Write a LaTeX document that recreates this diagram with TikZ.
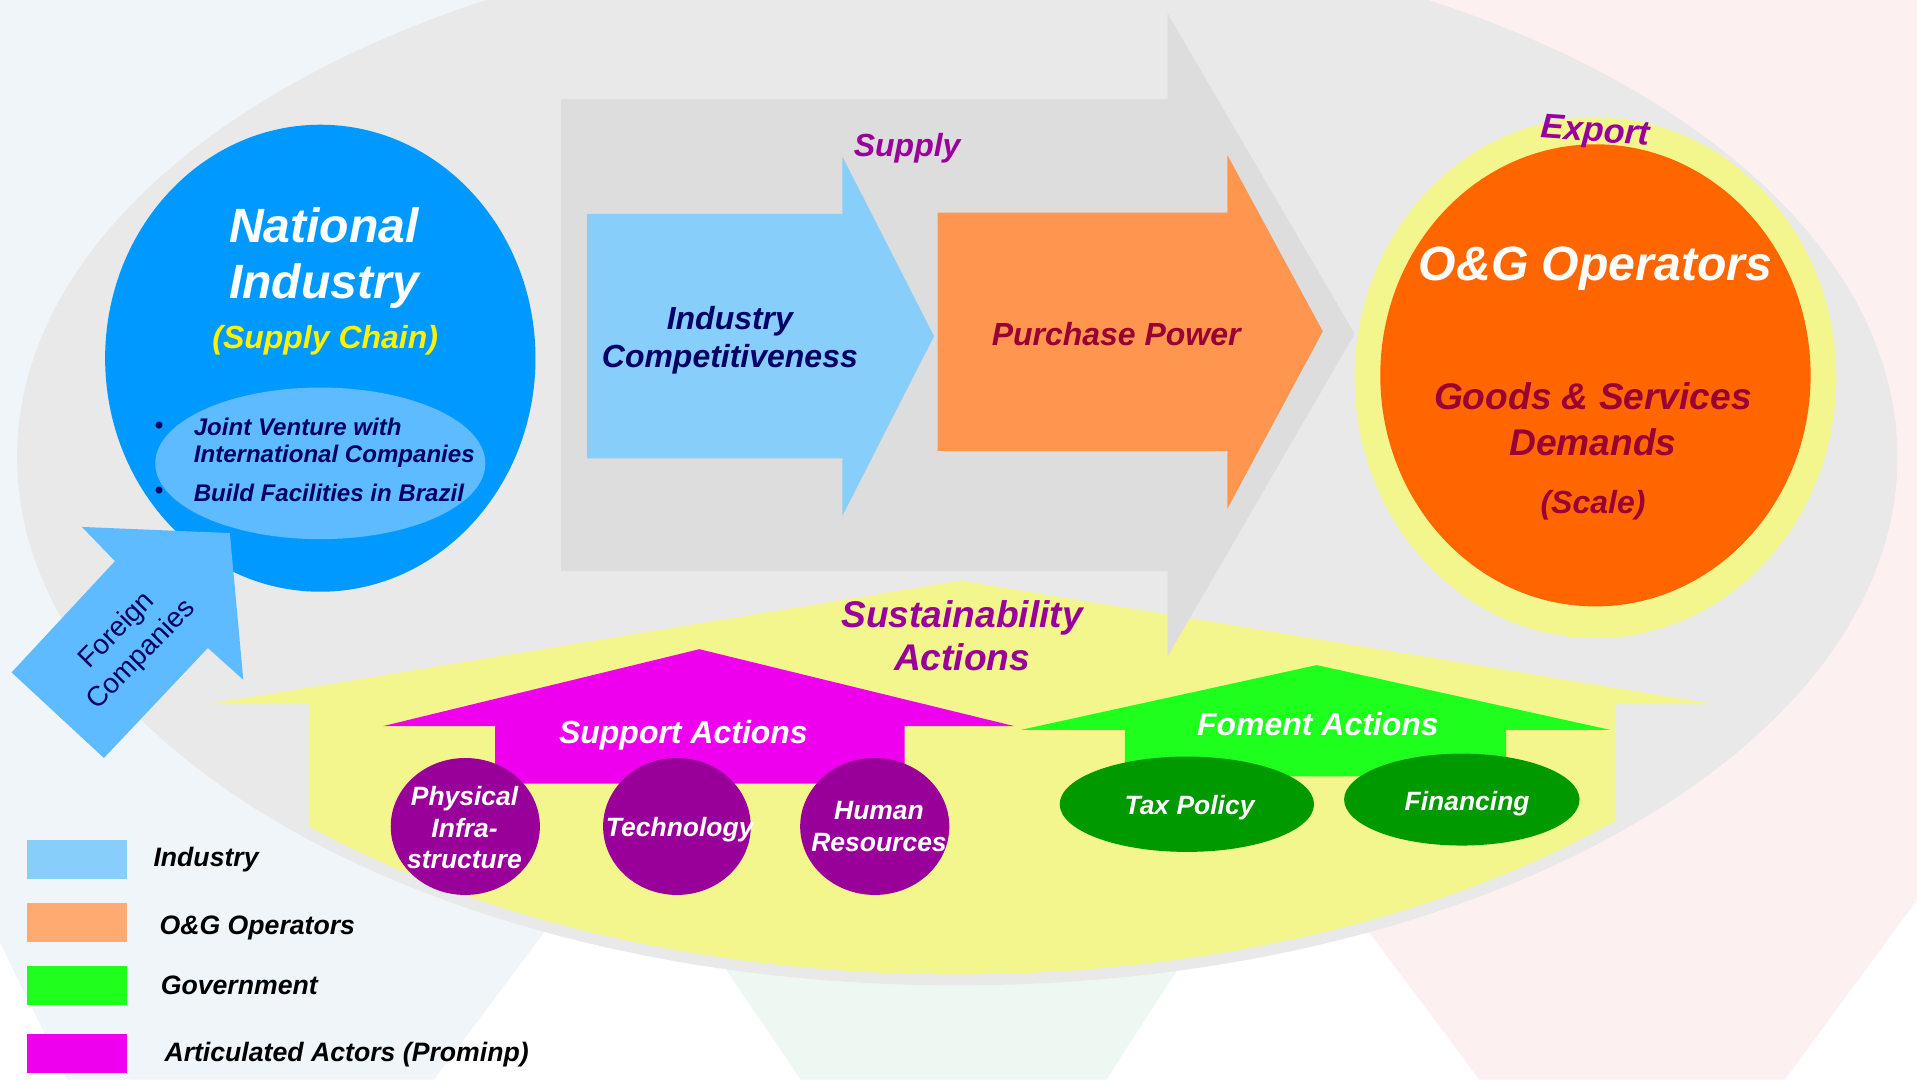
\documentclass[tikz,border=0pt]{standalone}
\usepackage{fontspec}
\setmainfont{Liberation Sans}
\usepackage{tikz}
\usetikzlibrary{positioning}
\definecolor{ovalgray}{HTML}{E9E9E9}
\definecolor{supplygray}{HTML}{DDDDDD}
\definecolor{industryblue}{HTML}{87CEFA}
\definecolor{purchaseorange}{HTML}{FF9650}
\definecolor{nationalblue}{HTML}{0099FF}
\definecolor{paleblue}{HTML}{5FBBFF}
\definecolor{navytext}{HTML}{000066}
\definecolor{maroontext}{HTML}{990033}
\definecolor{purpletext}{HTML}{990099}
\definecolor{sustyellow}{HTML}{F3F68C}
\definecolor{operatororange}{HTML}{FF6600}
\definecolor{supportmagenta}{HTML}{EE00EE}
\definecolor{fomentgreen}{HTML}{1EFF1E}
\definecolor{darkgreen}{HTML}{009900}
\definecolor{legendorange}{HTML}{FFAA70}
\definecolor{bgblue}{HTML}{EFF5F9}
\definecolor{bggreen}{HTML}{EEF8F2}
\definecolor{bgpink}{HTML}{FDF0F0}
\tikzstyle{bigtxt} = [inner sep=0pt, align=center, text=white, font=\fontsize{14}{16.7}\selectfont\bfseries\itshape]
\tikzstyle{subtxt} = [inner sep=0pt, align=center, font=\fontsize{10.8}{12.8}\selectfont\bfseries\itshape]
\tikzstyle{midtxt} = [inner sep=0pt, align=center, font=\fontsize{9.3}{11}\selectfont\bfseries\itshape]
\tikzstyle{smalltxt} = [inner sep=0pt, align=center, text=white, font=\fontsize{7.7}{9.25}\selectfont\bfseries\itshape]
\tikzstyle{bullettxt} = [inner sep=0pt, anchor=west, text=navytext, font=\fontsize{7}{8.2}\selectfont\bfseries\itshape]
\tikzstyle{legendtxt} = [inner sep=0pt, anchor=west, font=\fontsize{7.75}{9}\selectfont\bfseries\itshape]
\tikzstyle{legendbox} = [rectangle, minimum width=1.025cm, minimum height=0.4cm, inner sep=0pt]

\begin{document}
\begin{tikzpicture}[x=0.0125cm, y=-0.0125cm]
        % page and faded background
        \fill[white] (0,0) rectangle (1568,883);
        \useasboundingbox (0,0) rectangle (1568,883);
        \fill[bgblue] (0,0) -- (1016,0) -- (355,883) -- (55,883) -- (0,771) -- cycle;
        \fill[bgpink] (549,0) -- (1568,0) -- (1568,736) -- (1460,883) -- (1210,883) -- cycle;
        \fill[bggreen] (476,620) -- (1075,620) -- (905,883) -- (655,883) -- cycle;
        \fill[ovalgray] (783,374) ellipse [x radius=769, y radius=432];

        % sustainability arrow
        \begin{scope}
            \clip (783,374) ellipse [x radius=757, y radius=423];
            \fill[sustyellow] (170,576) -- (786,475) -- (1402,576) -- (1321,576) -- (1321,900) -- (253,900) -- (253,576) -- cycle;
        \end{scope}

        % supply arrows
        \fill[supplygray] (459,81) -- (955,81) -- (955,11) -- (1108,273) -- (955,537) -- (955,467) -- (459,467) -- cycle;
        \fill[industryblue] (480,175) -- (689,175) -- (689,128) -- (764,275) -- (689,422) -- (689,375) -- (480,375) -- cycle;
        \fill[purchaseorange] (767,174) -- (1004,174) -- (1004,127) -- (1082,271) -- (1004,416) -- (1004,369) -- (767,369) -- cycle;

        % national industry
        \fill[nationalblue] (262,293) ellipse [x radius=176, y radius=191];
        \fill[paleblue] (262,379) ellipse [x radius=135, y radius=62];
        \fill[paleblue] (67,431) -- (188,436) -- (199,556) -- (170,530) -- (85,620) -- (9.5,550) -- (94,459) -- cycle;

        % operators
        \fill[sustyellow] (1305,309) ellipse [x radius=197, y radius=213];
        \fill[operatororange] (1305,307) ellipse [x radius=176, y radius=189];

        % support and foment actions
        \fill[supportmagenta] (313,594) -- (572,531) -- (830,594) -- (740,594) -- (740,641) -- (405,641) -- (405,594) -- cycle;
        \fill[fomentgreen] (835,597) -- (1077,544) -- (1317,597) -- (1232,597) -- (1232,635) -- (920,635) -- (920,597) -- cycle;
        \fill[purpletext] (380.6,676) ellipse [x radius=61, y radius=56];
        \fill[purpletext] (553.7,676) ellipse [x radius=60.4, y radius=56];
        \fill[purpletext] (715.5,676) ellipse [x radius=61, y radius=56];
        \fill[darkgreen] (970.8,657.8) ellipse [x radius=104, y radius=39];
        \fill[darkgreen] (1195.7,654) ellipse [x radius=96.3, y radius=37.6];

        % texts
        \node (natl) [bigtxt] at (265,184) {National};
        \node (indus) [bigtxt] at (265,234) {Industry};
        \node (chain) [midtxt, text=yellow] at (266,278) {(Supply Chain)};
        \node (dot1) [bullettxt] at (126,350) {\textbullet};
        \node (joint) [bullettxt] at (158,349) {Joint Venture with};
        \node (intl) [bullettxt] at (158,373) {International Companies};
        \node (dot2) [bullettxt] at (126,403) {\textbullet};
        \node (build) [bullettxt] at (158,403) {Build Facilities in Brazil};
        \node (foreign) [inner sep=0pt, align=center, text=navytext, rotate=45.5,
            font=\fontsize{8.1}{10}\selectfont] at (106,526) {Foreign\\Companies};

        \node (supply) [midtxt, text=purpletext] at (742,121) {Supply};
        \node (compet) [midtxt, text=navytext] at (597,278.5) {Industry\\Competitiveness};
        \node (purch) [midtxt, text=maroontext] at (913,273) {Purchase Power};

        \node (export) [inner sep=0pt, text=purpletext, rotate=-4,
            font=\fontsize{10}{12}\selectfont\bfseries\itshape] at (1305,109) {Export};
        \node (operators) [bigtxt] at (1305,220) {O\&G Operators};
        \node (goods) [subtxt, text=maroontext, font=\fontsize{10.8}{13.2}\selectfont\bfseries\itshape] at (1303,343) {Goods \& Services\\Demands};
        \node (scale) [midtxt, text=maroontext] at (1303,413) {(Scale)};

        \node (sustain) [subtxt, text=purpletext, font=\fontsize{10.8}{12.45}\selectfont\bfseries\itshape] at (787,520) {Sustainability\\Actions};
        \node (support) [midtxt, text=white] at (559,601) {Support Actions};
        \node (foment) [midtxt, text=white] at (1078,592) {Foment Actions};
        \node (infra) [smalltxt] at (380,677) {Physical\\Infra-\\structure};
        \node (techn) [smalltxt] at (556,679) {Technology};
        \node (human) [smalltxt] at (719,676) {Human\\Resources};
        \node (tax) [smalltxt] at (973,661) {Tax Policy};
        \node (financ) [smalltxt] at (1200,657) {Financing};

        % legend
        \node (keyind) [legendbox, fill=industryblue] at (63,703) {};
        \node (keyog) [legendbox, fill=legendorange] at (63,754.5) {};
        \node (keygov) [legendbox, fill=fomentgreen] at (63,806) {};
        \node (keyact) [legendbox, fill=supportmagenta] at (63,861.5) {};
        \node (txtind) [legendtxt] at (125,703) {Industry};
        \node (txtog) [legendtxt] at (130,759) {O\&G Operators};
        \node (txtgov) [legendtxt] at (131,806) {Government};
        \node (txtact) [legendtxt] at (134,863) {Articulated Actors (Prominp)};
\end{tikzpicture}
\end{document}
